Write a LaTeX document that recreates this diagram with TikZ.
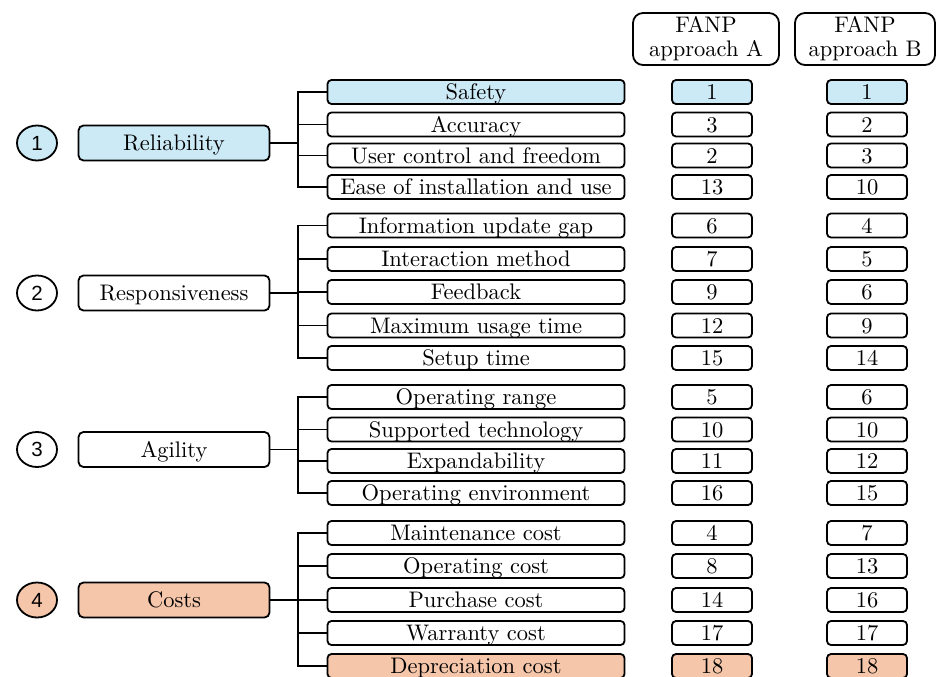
\documentclass[tikz,border=0pt]{standalone}
\usepackage{fontspec}
\setmainfont{lmroman10-regular.otf}
\newfontfamily\numfont{Liberation Sans}
\usetikzlibrary{shapes.geometric}
\definecolor{relblue}{HTML}{CCEAF6}
\definecolor{costorange}{HTML}{F5C6AA}
\tikzset{
  box/.style={draw, line width=1.8pt, rounded corners=4pt, minimum height=24pt,
    inner sep=0pt, text height=15pt, text depth=0pt,
    font=\fontsize{22.5}{25}\selectfont},
  subbox/.style={box, minimum width=297pt},
  scorebox/.style={box, minimum width=80pt},
  mainbox/.style={box, minimum width=191pt, minimum height=35pt, rounded corners=5pt},
  numell/.style={draw, ellipse, line width=1.8pt, minimum width=40pt, minimum height=35pt,
    inner sep=0pt, font=\numfont\fontsize{20.5}{22}\selectfont},
  headbox/.style={draw, line width=1.8pt, rounded corners=10pt, minimum height=52pt,
    align=center, inner sep=0pt, font=\fontsize{22.5}{24}\selectfont},
  conn/.style={line width=1.8pt},
  hlb/.style={fill=relblue},
  hlo/.style={fill=costorange},
  plain/.style={fill=white},
}
\begin{document}
\begin{tikzpicture}[x=1pt,y=-1pt]
\useasboundingbox (0,0) rectangle (937,677);

% headers
\node[headbox, minimum width=146pt] (hA) at (706,39) {FANP\\approach A};
\node[headbox, minimum width=140pt] (hB) at (865,39) {FANP\\approach B};

% rows
\foreach \i/\y/\t/\a/\b/\st in {
  1/92/Safety/1/1/hlb,
  2/124.5/Accuracy/3/2/plain,
  3/155.5/User control and freedom/2/3/plain,
  4/187/Ease of installation and use/13/10/plain,
  5/225.5/Information update gap/6/4/plain,
  6/259/Interaction method/7/5/plain,
  7/292/Feedback/9/6/plain,
  8/325.5/Maximum usage time/12/9/plain,
  9/358/Setup time/15/14/plain,
  10/397/Operating range/5/6/plain,
  11/429.5/Supported technology/10/10/plain,
  12/461/Expandability/11/12/plain,
  13/493/Operating environment/16/15/plain,
  14/533/Maintenance cost/4/7/plain,
  15/566/Operating cost/8/13/plain,
  16/600/Purchase cost/14/16/plain,
  17/633/Warranty cost/17/17/plain,
  18/666/Depreciation cost/18/18/hlo}{
  \node[subbox, \st] (s\i) at (476,\y) {\t};
  \node[scorebox, \st] (a\i) at (712,\y) {\a};
  \node[scorebox, \st] (b\i) at (867,\y) {\b};
}

% main criteria
\node[mainbox, hlb] (m1) at (174,143) {Reliability};
\node[mainbox, plain] (m2) at (174,293) {Responsiveness};
\node[mainbox, plain] (m3) at (174,449.5) {Agility};
\node[mainbox, hlo] (m4) at (174,600) {Costs};

\node[numell, hlb] (c1) at (37,143) {1};
\node[numell, plain] (c2) at (37,293) {2};
\node[numell, plain] (c3) at (37,449.5) {3};
\node[numell, hlo] (c4) at (37,600) {4};

% junctions
\coordinate (j1) at (298,143);
\coordinate (j2) at (298,293);
\coordinate (j3) at (298,449.5);
\coordinate (j4) at (298,600);

\draw[conn] (m1.east) -- (j1);
\draw[conn] (m2.east) -- (j2);
\draw[conn] (m3.east) -- (j3);
\draw[conn] (m4.east) -- (j4);

\foreach \i in {1,...,4} { \draw[conn] (j1) |- (s\i.west); }
\foreach \i in {5,...,9} { \draw[conn] (j2) |- (s\i.west); }
\foreach \i in {10,...,13} { \draw[conn] (j3) |- (s\i.west); }
\foreach \i in {14,...,18} { \draw[conn] (j4) |- (s\i.west); }
\end{tikzpicture}
\end{document}
